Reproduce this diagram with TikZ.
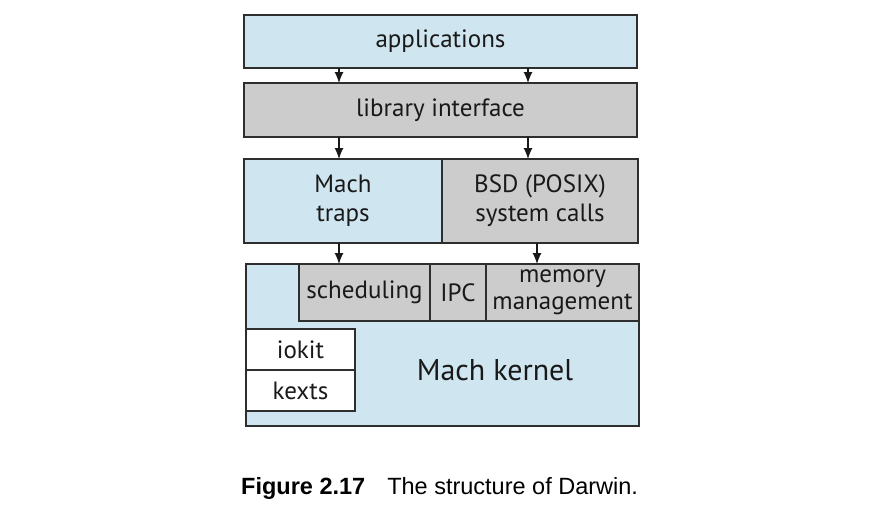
\documentclass[tikz,border=0pt]{standalone}
\usepackage{fontspec}
\setmainfont{PT Sans}
\newfontfamily\capfont{Liberation Sans}
\definecolor{lblue}{HTML}{CFE5EF}
\definecolor{lgray}{HTML}{CCCCCC}
\definecolor{edge}{HTML}{2E2E2E}
\tikzset{
  box/.style={draw=edge, line width=1.3pt, inner sep=0pt, outer sep=0pt, anchor=north west,
    align=center, font=\fontsize{25}{29}\selectfont, text=black!90},
  bluebox/.style={box, fill=lblue},
  graybox/.style={box, fill=lgray},
  whitebox/.style={box, fill=white},
  arr/.style={-{Latex[length=11pt,width=9pt]}, line width=1.2pt, draw=black!90}
}
\usetikzlibrary{arrows.meta}
\begin{document}
\begin{tikzpicture}[x=1pt,y=-1pt]
\useasboundingbox (0,0) rectangle (870,520);

\node[bluebox, minimum width=393pt, minimum height=53pt] (apps) at (244,15) {applications};
\node[graybox, minimum width=393pt, minimum height=54pt] (lib) at (244,83) {library interface};

\node[bluebox, minimum width=198pt, minimum height=84pt] (traps) at (244,159) {Mach\\traps};
\node[graybox, minimum width=196pt, minimum height=84pt] (bsd) at (442,159) {BSD (POSIX)\\system calls};

% kernel and its parts
\node[bluebox, minimum width=393pt, minimum height=162pt] (kernel) at (246,264) {};
\node[graybox, minimum width=131pt, minimum height=57pt] (sched) at (299,264) {scheduling};
\node[graybox, minimum width=56pt, minimum height=57pt] (ipc) at (430,264) {IPC};
\node[graybox, minimum width=153pt, minimum height=57pt, font=\fontsize{25}{27}\selectfont] (mem) at (486,264) {memory\\management};
\node[whitebox, minimum width=109pt, minimum height=41pt] (iokit) at (246,329) {iokit};
\node[whitebox, minimum width=109pt, minimum height=41pt] (kexts) at (246,370) {kexts};
\node[font=\fontsize{30}{34}\selectfont, text=black!90] (kern) at (495,370) {Mach kernel};

\coordinate (l) at (339,0);
\coordinate (r) at (528,0);
\coordinate (m) at (537,0);
\draw[arr] (apps.south -| l) -- (lib.north -| l);
\draw[arr] (apps.south -| r) -- (lib.north -| r);
\draw[arr] (lib.south -| l) -- (traps.north -| l);
\draw[arr] (lib.south -| r) -- (bsd.north -| r);
\draw[arr] (traps.south -| l) -- (sched.north -| l);
\draw[arr] (bsd.south -| m) -- (mem.north -| m);

\node[anchor=base west, inner sep=0pt, font=\capfont\fontsize{23.5}{26}\selectfont] (cap) at (241,494)
  {\textbf{Figure 2.17}\hspace{22pt}The structure of Darwin.};
\end{tikzpicture}
\end{document}
